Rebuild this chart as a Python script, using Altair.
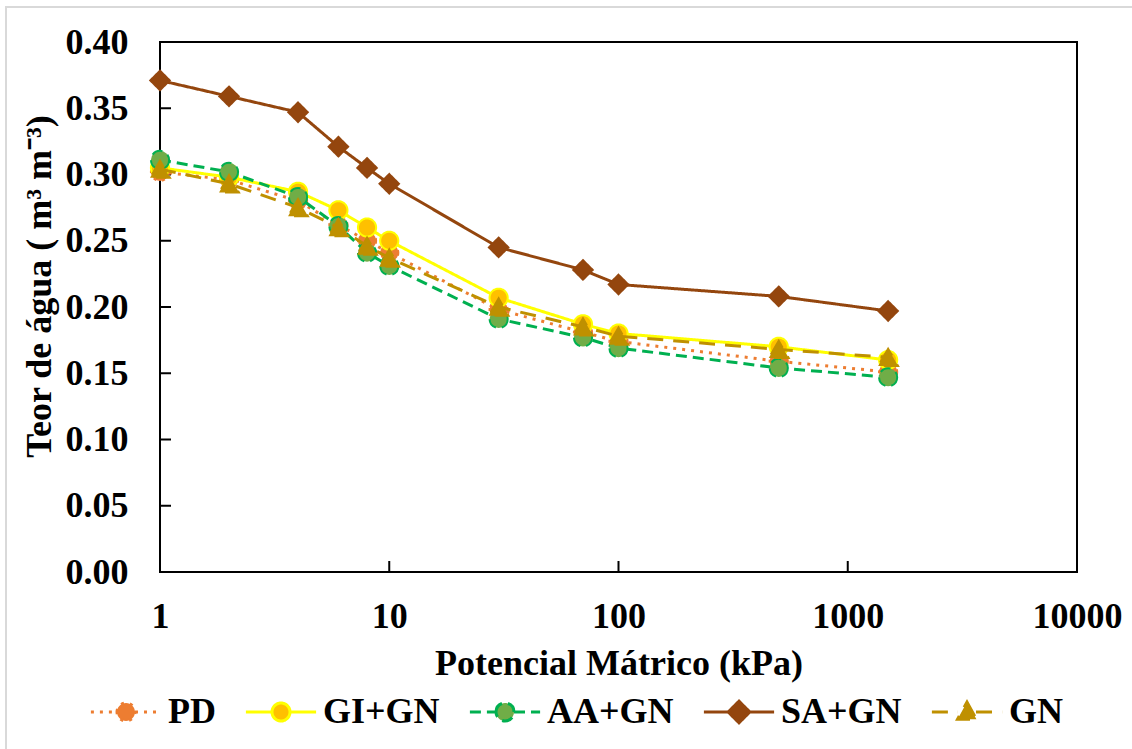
import altair as alt
import pandas as pd

# Matric potential (kPa) at which water content was measured
potencial_kpa = [1, 2, 4, 6, 8, 10, 30, 70, 100, 500, 1500]

series = ["PD", "GI+GN", "AA+GN", "SA+GN", "GN"]

# Volumetric water content (m3 m-3) per treatment
teor_pd = [0.302, 0.296, 0.280, 0.262, 0.250, 0.241, 0.198, 0.181, 0.174, 0.159, 0.151]
teor_gi_gn = [0.305, 0.298, 0.287, 0.273, 0.260, 0.250, 0.207, 0.187, 0.180, 0.170, 0.160]
teor_aa_gn = [0.311, 0.302, 0.283, 0.261, 0.241, 0.231, 0.191, 0.177, 0.169, 0.154, 0.147]
teor_sa_gn = [0.371, 0.359, 0.347, 0.321, 0.305, 0.293, 0.245, 0.228, 0.217, 0.208, 0.197]
teor_gn = [0.304, 0.293, 0.275, 0.260, 0.246, 0.237, 0.200, 0.185, 0.178, 0.168, 0.162]

x_ticks = [1, 10, 100, 1000, 10000]
y_ticks = [0.0, 0.05, 0.10, 0.15, 0.20, 0.25, 0.30, 0.35, 0.40]

# Styles per series
line_colors = ["#ED7D31", "#FFFF00", "#00B050", "#94460E", "#BF9000"]
fill_colors = ["#ED7D31", "#FFC000", "#70AD47", "#94460E", "#BF9000"]
dash_patterns = [[3, 6], [1, 0], [11, 6], [1, 0], [16, 10]]
marker_shapes = ["circle", "circle", "circle", "diamond", "triangle-up"]
marker_sizes = [330, 330, 330, 380, 400]

FONT = "Liberation Serif"

rows = []
for s, shp, vals in zip(series, marker_shapes, [teor_pd, teor_gi_gn, teor_aa_gn, teor_sa_gn, teor_gn]):
    for p, v in zip(potencial_kpa, vals):
        rows.append({"Potencial": p, "Teor": v, "Serie": s, "Forma": shp})
df = pd.DataFrame(rows)

# Legend symbols: a short line segment with the marker in its middle
seg = "M-3.9,0L-1,0M1,0L3.9,0"
circle_p = "M-1,0A1,1,0,1,1,1,0A1,1,0,1,1,-1,0Z"
diamond_p = "M0,-1.2L1.2,0L0,1.2L-1.2,0Z"
triangle_p = "M0,-1.1L1.05,0.8L-1.05,0.8Z"
symbol_expr = (
    f"datum.value === 'SA+GN' ? '{seg + diamond_p}' : "
    f"datum.value === 'GN' ? '{seg + triangle_p}' : '{seg + circle_p}'"
)

legend = alt.Legend(
    title=None,
    orient="none",
    legendX=-52,
    legendY=652,
    direction="horizontal",
    columns=5,
    labelFont=FONT,
    labelFontSize=36,
    labelFontWeight="bold",
    labelColor="black",
    labelLimit=400,
    labelOffset=24,
    columnPadding=23,
    symbolSize=324,
    symbolStrokeWidth=3,
    symbolType=alt.ExprRef(expr=symbol_expr),
)

x_scale = alt.Scale(type="log", domain=[1, 10000])
y_scale = alt.Scale(domain=[0, 0.4])

x_axis = alt.Axis(
    values=x_ticks,
    format="d",
    title="Potencial Mátrico (kPa)",
    ticks=False,
    grid=False,
    domain=False,
    labelPadding=27,
    labelFlush=False,
    labelOverlap=False,
    titleY=102,
    titleBaseline="alphabetic",
)
y_axis = alt.Axis(
    values=y_ticks,
    format=".2f",
    title="Teor de água ( m³ m⁻³)",
    ticks=False,
    grid=False,
    domain=False,
    labelPadding=32,
    titleX=-110,
    titleY=244,
    titleBaseline="alphabetic",
)

x_enc = alt.X("Potencial:Q", scale=x_scale, axis=x_axis)
y_enc = alt.Y("Teor:Q", scale=y_scale, axis=y_axis)

stroke_enc = alt.Stroke("Serie:N", scale=alt.Scale(domain=series, range=line_colors), legend=legend)
fill_enc = alt.Fill("Serie:N", scale=alt.Scale(domain=series, range=fill_colors), legend=legend)
# marker shape is taken directly from the table (identity scale)
shape_enc = alt.Shape("Forma:N", scale=None)
dash_enc = alt.StrokeDash("Serie:N", scale=alt.Scale(domain=series, range=dash_patterns), legend=legend)

# Light outer border around the whole figure
frame = alt.Chart(alt.Data(values=[{}])).mark_rect(
    fillOpacity=0, stroke="#D9D9D9", strokeWidth=2
).encode(
    x=alt.value(-154), x2=alt.value(975), y=alt.value(-35), y2=alt.value(715)
)

# Inward tick marks
x_tick_rules = alt.Chart(pd.DataFrame({"Potencial": x_ticks[1:-1]})).mark_rule(
    color="black", strokeWidth=2
).encode(x=x_enc, y=alt.value(530), y2=alt.value(519))

y_tick_rules = alt.Chart(pd.DataFrame({"Teor": y_ticks[1:-1]})).mark_rule(
    color="black", strokeWidth=2
).encode(y=y_enc, x=alt.value(0), x2=alt.value(11))

layers = [frame, x_tick_rules, y_tick_rules]
for i, s in enumerate(series):
    sub = alt.Chart(df).transform_filter(alt.datum.Serie == s)
    layers.append(
        sub.mark_line(strokeWidth=3).encode(
            x=x_enc, y=y_enc, stroke=stroke_enc, strokeDash=dash_enc
        )
    )
    layers.append(
        sub.mark_point(filled=True, opacity=1, size=marker_sizes[i], strokeWidth=2).encode(
            x=x_enc, y=y_enc, fill=fill_enc, stroke=stroke_enc, shape=shape_enc, strokeDash=dash_enc
        )
    )

chart = (
    alt.layer(*layers)
    .properties(
        width=917,
        height=530,
        autosize=alt.AutoSizeParams(type="none"),
        padding={"left": 160, "top": 42, "right": 55, "bottom": 177},
        background="white",
    )
    .configure_axis(
        labelFont=FONT,
        labelFontSize=36,
        labelFontWeight="bold",
        labelColor="black",
        titleFont=FONT,
        titleFontSize=36,
        titleFontWeight="bold",
        titleColor="black",
    )
    .configure_view(stroke="black", strokeWidth=2)
)

chart.save("out.html", embed_options={"renderer": "svg", "actions": False})
